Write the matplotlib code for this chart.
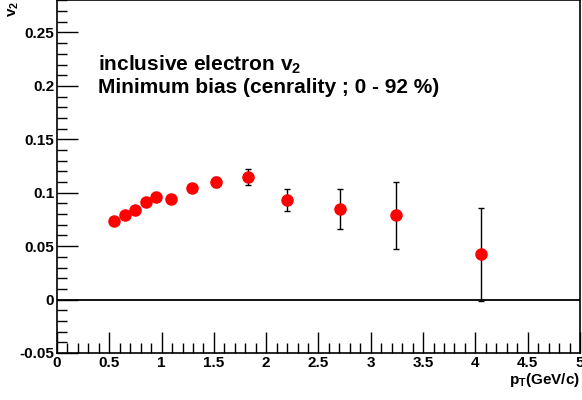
import matplotlib
import matplotlib.pyplot as plt
from matplotlib.ticker import MultipleLocator

matplotlib.use("Agg")

pt = [0.545, 0.647, 0.749, 0.848, 0.946, 1.087, 1.29, 1.523, 1.829,
      2.199, 2.706, 3.244, 4.05]
v2 = [0.0738, 0.0794, 0.0835, 0.0916, 0.0956, 0.0944, 0.104, 0.110,
      0.1146, 0.0935, 0.0847, 0.0788, 0.0424]
v2_err = [0.0, 0.0, 0.0, 0.0, 0.0, 0.0, 0.0, 0.005, 0.0076,
          0.0102, 0.019, 0.031, 0.0435]
xticks = [0, 0.5, 1, 1.5, 2, 2.5, 3, 3.5, 4, 4.5, 5]
xlabels = ["0", "0.5", "1", "1.5", "2", "2.5", "3", "3.5", "4", "4.5", "5"]
yticks = [-0.05, 0, 0.05, 0.1, 0.15, 0.2, 0.25]
ylabels = ["-0.05", "0", "0.05", "0.1", "0.15", "0.2", "0.25"]


def main():
    plt.rcParams["font.family"] = ["Liberation Sans", "DejaVu Sans"]
    plt.rcParams["font.weight"] = "bold"
    plt.rcParams["mathtext.fontset"] = "custom"
    plt.rcParams["mathtext.rm"] = "Liberation Sans:bold"
    plt.rcParams["mathtext.bf"] = "Liberation Sans:bold"
    plt.rcParams["mathtext.it"] = "Liberation Sans:bold"
    fig = plt.figure(figsize=(5.82, 4.0), dpi=100)
    ax = fig.add_axes([0.0979, 0.1175, 0.8987, 0.8815])

    ax.axhline(0, color="black", lw=1.3, zorder=1)
    ax.errorbar(pt, v2, yerr=v2_err, fmt="none", ecolor="black",
                elinewidth=1.0, capsize=2, capthick=1.0, zorder=2)
    ax.plot(pt, v2, "o", color="red", markersize=8, zorder=3)

    ax.set_xlim(0, 5)
    ax.set_ylim(-0.05, 0.28)
    ax.set_xticks(xticks)
    ax.set_xticklabels(xlabels, fontweight="bold")
    ax.set_yticks(yticks)
    ax.set_yticklabels(ylabels, fontweight="bold")
    ax.xaxis.set_minor_locator(MultipleLocator(0.1))
    ax.yaxis.set_minor_locator(MultipleLocator(0.01))
    ax.tick_params(which="both", direction="in", top=False, right=False,
                   labelsize=11, width=1.0)
    ax.tick_params(which="major", length=15, pad=2)
    ax.tick_params(which="minor", length=7)
    for s in ax.spines.values():
        s.set_linewidth(1.2)

    fig.text(0.997, 0.04, r"p$_\mathrm{T}$(GeV/c)", ha="right",
             va="baseline", fontsize=11, fontweight="bold")
    fig.text(0.012, 0.998, r"v$_\mathrm{2}$", rotation=90, ha="left",
             va="top", fontsize=11, fontweight="bold")

    ax.text(0.078, 0.80, r"inclusive electron v$_\mathrm{2}$",
            transform=ax.transAxes, fontsize=15, fontweight="bold")
    ax.text(0.078, 0.738, "Minimum bias (cenrality ; 0 - 92 %)",
            transform=ax.transAxes, fontsize=15, fontweight="bold")

    fig.savefig("out.png")
    return 0


if __name__ == "__main__":
    main()
